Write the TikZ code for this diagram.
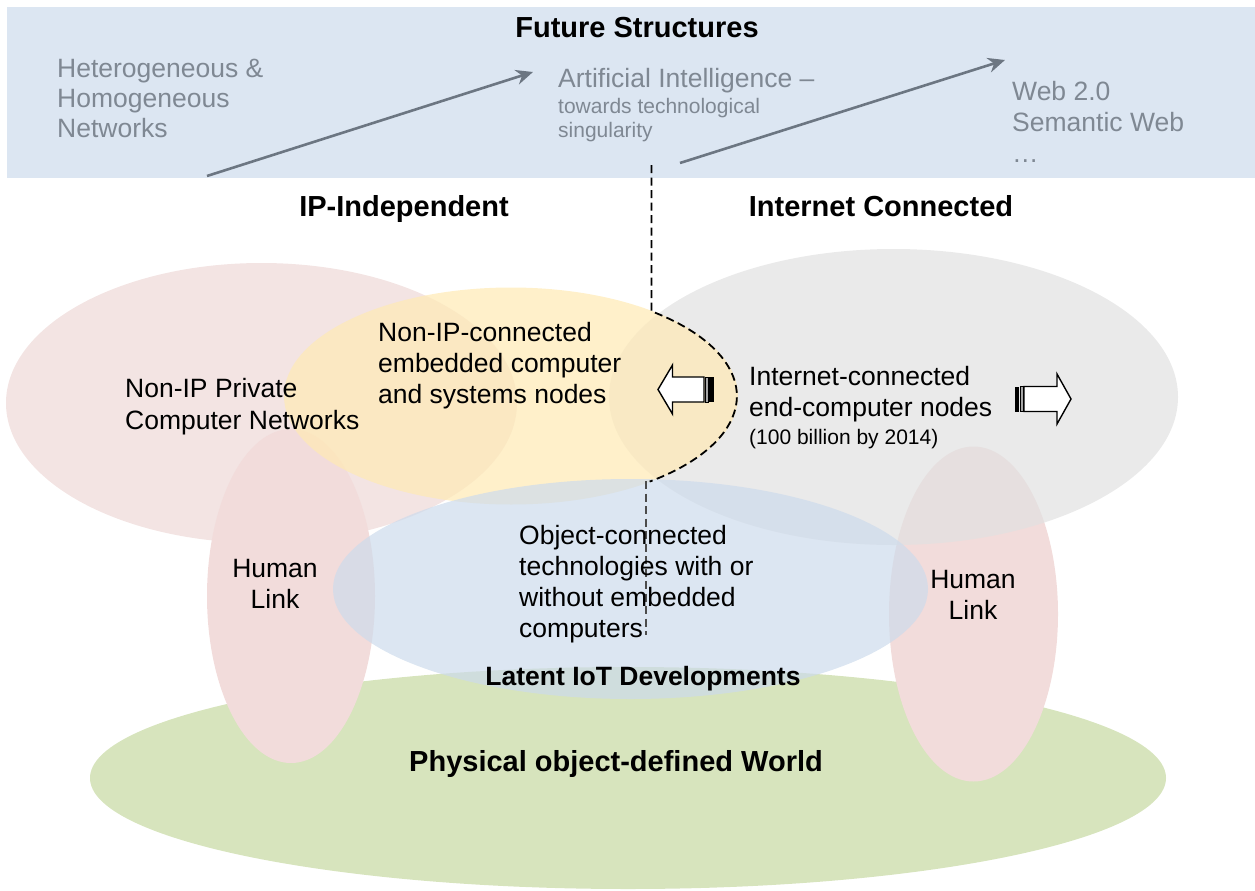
\documentclass[tikz,border=0pt]{standalone}
\usepackage{fontspec}
\setmainfont{Liberation Sans}
\usetikzlibrary{arrows.meta}

\definecolor{bandblue}{HTML}{DCE6F2}
\definecolor{fadetext}{HTML}{7F8893}
\definecolor{trendline}{HTML}{6C7682}
\definecolor{worldgreen}{HTML}{D7E4BD}
\definecolor{privpink}{HTML}{F3E4E3}
\definecolor{humanpink}{HTML}{F2DCDB}
\definecolor{netgray}{HTML}{E1E1E1}
\definecolor{embyellow}{HTML}{FFEAB4}
\definecolor{objblue}{HTML}{CDDBEC}

\begin{document}
\begin{tikzpicture}[x=1pt,y=-1pt,
  body/.style={inner sep=0pt, align=left, font=\fontsize{26.5}{31}\selectfont},
  small/.style={inner sep=0pt, align=left, font=\fontsize{21}{24}\selectfont},
  head/.style={inner sep=0pt, align=center, font=\fontsize{29}{33}\selectfont\bfseries},
  faded/.style={text=fadetext},
  trend/.style={draw=trendline, line width=2.6pt, -{Stealth[length=17pt,width=15pt]}},
  layer/.style={fill opacity=0.7},
  blockarrow/.style={draw=black, line width=1.4pt, fill=white, line join=miter}
]
\useasboundingbox (0,0) rectangle (1255,891);

% band of future structures
\fill[bandblue] (7,7) rectangle (1255,178);

% overlapping domains
\fill[worldgreen] (628,778) ellipse [x radius=538pt, y radius=111pt];
\fill[privpink] (261.5,403) ellipse [x radius=255.5pt, y radius=140pt];
\fill[humanpink] (291,596) ellipse [x radius=84pt, y radius=167pt];
\fill[humanpink] (973.5,614) ellipse [x radius=84.5pt, y radius=167.5pt];
\fill[netgray, layer] (893.5,397) ellipse [x radius=284.5pt, y radius=148pt];
\fill[embyellow, layer] (511,396) ellipse [x radius=227pt, y radius=108.5pt];
\fill[objblue, layer] (630.5,589) ellipse [x radius=297.5pt, y radius=110pt];

% boundary between IP-independent and internet-connected domains
\draw[black, line width=1.8pt, dash pattern=on 8pt off 4.5pt]
  (651.5,165) -- (651.5,311.3) arc [start angle=51.4, end angle=-52, x radius=227pt, y radius=108.5pt];
\draw[black!70, line width=1.4pt, dash pattern=on 8pt off 4.5pt] (646,481) -- (646,635);

% headings
\node[head] (future) at (637,28) {Future Structures};
\node[head] (ipind) at (404,208.5) {IP-Independent};
\node[head] (inet) at (881,206.5) {Internet Connected};

% future structures
\node[body, faded, anchor=west, font=\fontsize{26.5}{30}\selectfont] (hetero) at (57,98.5) {Heterogeneous \&\\Homogeneous\\Networks};
\node[body, faded, anchor=west] (ai) at (558,80.5) {Artificial Intelligence --};
\node[small, faded, anchor=west] (sing) at (558,120) {towards technological\\singularity};
\node[body, faded, anchor=west] (web) at (1012,121.5) {Web 2.0\\Semantic Web\\\ldots};

\coordinate (t1s) at (207,176);
\coordinate (t1e) at (533,72);
\coordinate (t2s) at (680,163);
\coordinate (t2e) at (1005,60);
\draw[trend] (t1s) -- (t1e);
\draw[trend] (t2s) -- (t2e);

% domain labels
\node[body, anchor=west, font=\fontsize{26.5}{32}\selectfont] (priv) at (125,406.5) {Non-IP Private\\Computer Networks};
\node[body, anchor=west] (emb) at (378,366) {Non-IP-connected\\embedded computer\\and systems nodes};
\node[body, anchor=west] (endc) at (749,394) {Internet-connected\\end-computer nodes};
\node[small, anchor=west] (count) at (749,439) {(100 billion by 2014)};
\node[body, align=center] (hl1) at (275,584) {Human\\Link};
\node[body, align=center] (hl2) at (973,595) {Human\\Link};
\node[body, anchor=west] (obj) at (519,584) {Object-connected\\technologies with or\\without embedded\\computers};
\node[head, font=\fontsize{26.5}{31}\selectfont\bfseries] (latent) at (643,679) {Latent IoT Developments};
\node[head] (world) at (616,764) {Physical object-defined World};

% striped block arrows
\draw[blockarrow] (658,389.5) -- (672.5,365) -- (672.5,377) -- (704,377)
  -- (704,402) -- (672.5,402) -- (672.5,414) -- cycle;
\draw[black, line width=1pt, fill=black!35] (705,377) rectangle (708,402);
\fill[black] (709,377) rectangle (714,402);

\draw[blockarrow] (1071,399) -- (1057,374) -- (1057,386.5) -- (1024,386.5)
  -- (1024,411.5) -- (1057,411.5) -- (1057,424) -- cycle;
\draw[black, line width=1pt, fill=black!35] (1020,386.5) rectangle (1023,411.5);
\fill[black] (1015,386.5) rectangle (1019,411.5);

\end{tikzpicture}
\end{document}
